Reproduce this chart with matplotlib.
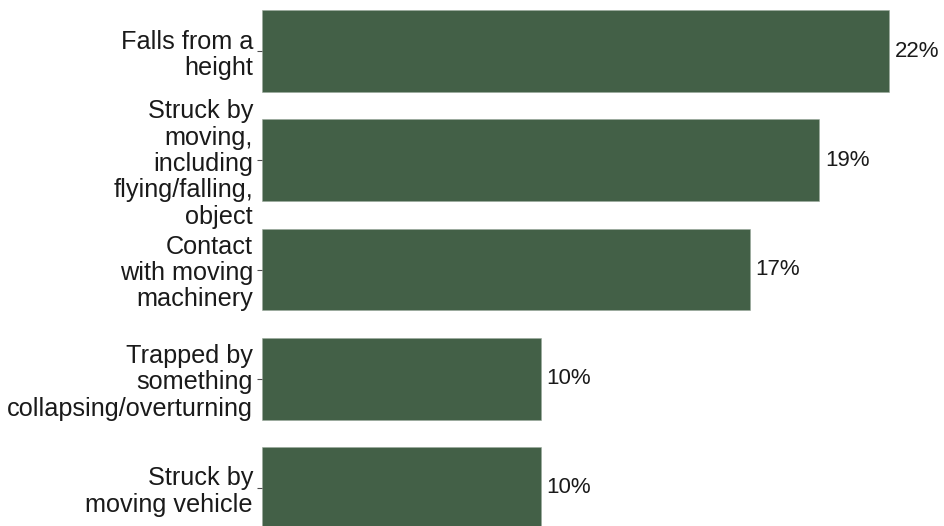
import matplotlib.pyplot as plt

plt.rcParams["font.family"] = ["Liberation Sans", "DejaVu Sans"]

categories = [
    "Falls from a\nheight",
    "Struck by\nmoving,\nincluding\nflying/falling,\nobject",
    "Contact\nwith moving\nmachinery",
    "Trapped by\nsomething\ncollapsing/overturning",
    "Struck by\nmoving vehicle",
]
shares = [21.6, 19.2, 16.8, 9.6, 9.6]

bar_color = "#436047"

fig = plt.figure(figsize=(9.44, 5.26), dpi=100)
ax = fig.add_axes([262 / 944, 0, 1 - 262 / 944, 1])

pos = list(range(len(categories)))
ax.barh(pos, shares, height=0.75, color=bar_color, edgecolor="#9aa89c", linewidth=0.4)

for y, v in zip(pos, shares):
    ax.text(v + 0.2, y, f"{v:.0f}%", va="center", ha="left", fontsize=16, color="#1a1a1a")

ax.set_yticks(pos)
ax.set_yticklabels(categories, fontsize=18.2, linespacing=1.12, color="#1a1a1a")
ax.set_ylim(4.35, -0.47)
ax.set_xlim(0, 23.5)
ax.set_xticks([])
ax.tick_params(axis="y", length=3.5, width=0.8, color="#4d4d4d", pad=3)
for s in ax.spines.values():
    s.set_visible(False)

fig.savefig("out.png", dpi=100)
